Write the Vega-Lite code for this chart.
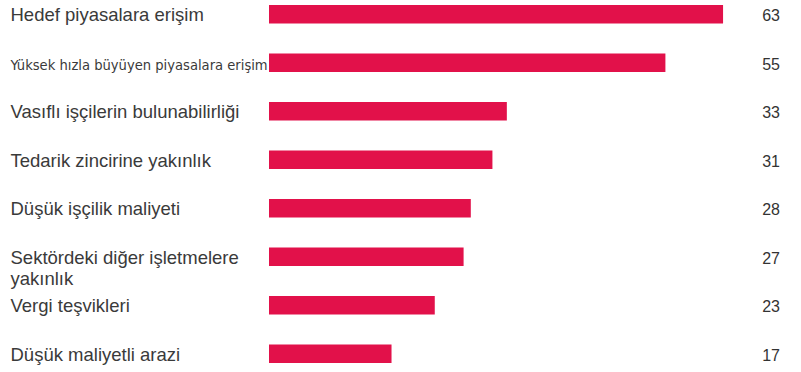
{
  "$schema": "https://vega.github.io/schema/vega-lite/v6.json",
  "autosize": {"type": "none"},
  "width": 511,
  "height": 358,
  "padding": {"left": 269, "top": 5, "right": 21, "bottom": 9},
  "background": "white",
  "config": {"view": {"stroke": null}},
  "data": {
    "values": [
      {"factor": "Hedef piyasalara erişim", "value": 63},
      {"factor": "Yüksek hızla büyüyen piyasalara erişim", "value": 55},
      {"factor": "Vasıflı işçilerin bulunabilirliği", "value": 33},
      {"factor": "Tedarik zincirine yakınlık", "value": 31},
      {"factor": "Düşük işçilik maliyeti", "value": 28},
      {"factor": "Sektördeki diğer işletmelere yakınlık", "value": 27},
      {"factor": "Vergi teşvikleri", "value": 23},
      {"factor": "Düşük maliyetli arazi", "value": 17}
    ]
  },
  "encoding": {
    "y": {
      "field": "factor",
      "type": "nominal",
      "sort": null,
      "scale": {"paddingInner": 0.6186, "paddingOuter": 0},
      "axis": {
        "title": null,
        "domain": false,
        "ticks": false,
        "labelAlign": "left",
        "labelPadding": 259,
        "labelLimit": 300,
        "labelBaseline": "alphabetic",
        "labelOffset": 7,
        "labelLineHeight": 21,
        "labelFontSize": {
          "condition": {"test": "datum.value == 'Yüksek hızla büyüyen piyasalara erişim'", "value": 14.6},
          "value": 18.5
        },
        "labelColor": "#3a3a3a",
        "labelFont": {
          "condition": {"test": "datum.value == 'Yüksek hızla büyüyen piyasalara erişim'", "value": "DejaVu Sans Condensed"},
          "value": "Liberation Sans"
        },
        "labelExpr": "datum.value == 'Sektördeki diğer işletmelere yakınlık' ? ['Sektördeki diğer işletmelere', 'yakınlık'] : datum.label"
      }
    }
  },
  "layer": [
    {
      "mark": {"type": "bar", "color": "#E2114A"},
      "encoding": {
        "x": {
          "field": "value",
          "type": "quantitative",
          "scale": {"domain": [0, 70.9], "nice": false, "zero": true},
          "axis": null
        }
      }
    },
    {
      "mark": {"type": "text", "align": "right", "baseline": "alphabetic", "dy": 7, "fontSize": 16, "font": "Liberation Sans", "color": "#333333"},
      "encoding": {
        "x": {"datum": 70.9, "type": "quantitative"},
        "text": {"field": "value", "type": "quantitative"}
      }
    }
  ]
}
